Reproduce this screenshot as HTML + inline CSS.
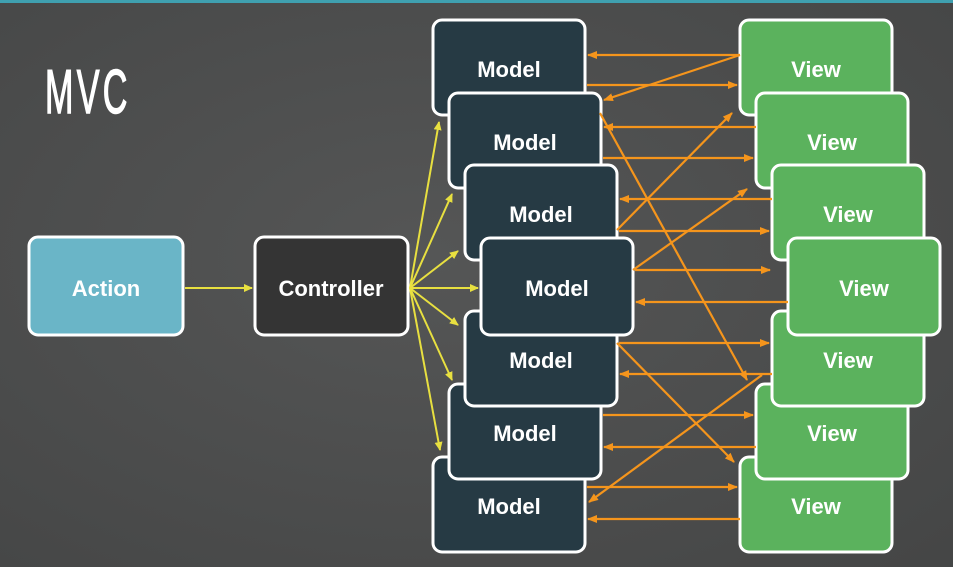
<!DOCTYPE html>
<html><head><meta charset="utf-8"><style>
html,body{margin:0;padding:0;background:#4a4b4b;}
svg{display:block}
text{font-family:"Liberation Sans",sans-serif;font-weight:bold;fill:#fff;}
</style></head><body>
<svg width="953" height="567" viewBox="0 0 953 567" xmlns="http://www.w3.org/2000/svg">
<defs>
<radialGradient id="bg" cx="0.45" cy="0.45" r="0.8">
<stop offset="0" stop-color="#555656"/><stop offset="1" stop-color="#444545"/>
</radialGradient>
<marker id="ya" markerWidth="9" markerHeight="9" refX="8" refY="4.5" orient="auto" markerUnits="userSpaceOnUse"><path d="M0,0.5 L9,4.5 L0,8.5z" fill="#e8e040"/></marker>
<marker id="oa" markerWidth="10" markerHeight="9" refX="9" refY="4.5" orient="auto" markerUnits="userSpaceOnUse"><path d="M0,0.5 L10,4.5 L0,8.5z" fill="#f5951c"/></marker>
</defs>
<rect width="953" height="567" fill="url(#bg)"/>
<rect width="953" height="3" fill="#3fa0b0"/>
<text x="45" y="113" font-size="62" letter-spacing="6" transform="translate(45 0) scale(0.55 1) translate(-45 0)" style="font-weight:normal" stroke="#fff" stroke-width="1.5">MVC</text>

<rect x="29" y="237" width="154" height="98" rx="9" fill="#6ab5c7" stroke="#fff" stroke-width="3"/>
<text x="106" y="296" font-size="22" text-anchor="middle">Action</text>
<rect x="255" y="237" width="153" height="98" rx="9" fill="#343434" stroke="#fff" stroke-width="3"/>
<text x="331" y="296" font-size="22" text-anchor="middle">Controller</text>
<line x1="185" y1="288" x2="252" y2="288" stroke="#e8e040" stroke-width="2" marker-end="url(#ya)"/>

<g stroke="#e8e040" stroke-width="2" marker-end="url(#ya)">
<line x1="410" y1="288" x2="439" y2="122"/>
<line x1="410" y1="288" x2="452" y2="194"/>
<line x1="410" y1="288" x2="458" y2="251"/>
<line x1="410" y1="288" x2="478" y2="288"/>
<line x1="410" y1="288" x2="458" y2="325"/>
<line x1="410" y1="288" x2="452" y2="380"/>
<line x1="410" y1="288" x2="440" y2="450"/>
</g>

<g stroke="#fff" stroke-width="3" fill="#263a44">
<rect x="433" y="20" width="152" height="95" rx="9"/>
<rect x="449" y="93" width="152" height="95" rx="9"/>
<rect x="465" y="165" width="152" height="95" rx="9"/>
<rect x="433" y="457" width="152" height="95" rx="9"/>
<rect x="449" y="384" width="152" height="95" rx="9"/>
<rect x="465" y="311" width="152" height="95" rx="9"/>
<rect x="481" y="238" width="152" height="97" rx="9"/>
</g>
<g font-size="22" text-anchor="middle">
<text x="509" y="77">Model</text>
<text x="525" y="150">Model</text>
<text x="541" y="222">Model</text>
<text x="509" y="514">Model</text>
<text x="525" y="441">Model</text>
<text x="541" y="368">Model</text>
<text x="557" y="296">Model</text>
</g>

<g stroke="#fff" stroke-width="3" fill="#5bb25d">
<rect x="740" y="20" width="152" height="95" rx="9"/>
<rect x="756" y="93" width="152" height="95" rx="9"/>
<rect x="772" y="165" width="152" height="95" rx="9"/>
<rect x="740" y="457" width="152" height="95" rx="9"/>
<rect x="756" y="384" width="152" height="95" rx="9"/>
<rect x="772" y="311" width="152" height="95" rx="9"/>
<rect x="788" y="238" width="152" height="97" rx="9"/>
</g>
<g font-size="22" text-anchor="middle">
<text x="816" y="77">View</text>
<text x="832" y="150">View</text>
<text x="848" y="222">View</text>
<text x="816" y="514">View</text>
<text x="832" y="441">View</text>
<text x="848" y="368">View</text>
<text x="864" y="296">View</text>
</g>

<g stroke="#f5951c" stroke-width="2.2" marker-end="url(#oa)">
<line x1="740" y1="55" x2="588" y2="55"/>
<line x1="587" y1="85" x2="737" y2="85"/>
<line x1="756" y1="127" x2="604" y2="127"/>
<line x1="603" y1="158" x2="753" y2="158"/>
<line x1="772" y1="199" x2="620" y2="199"/>
<line x1="619" y1="231" x2="769" y2="231"/>
<line x1="635" y1="270" x2="770" y2="270"/>
<line x1="788" y1="302" x2="636" y2="302"/>
<line x1="619" y1="343" x2="769" y2="343"/>
<line x1="772" y1="374" x2="620" y2="374"/>
<line x1="603" y1="415" x2="753" y2="415"/>
<line x1="756" y1="447" x2="604" y2="447"/>
<line x1="587" y1="487" x2="737" y2="487"/>
<line x1="740" y1="519" x2="588" y2="519"/>
<line x1="740" y1="55" x2="604" y2="100"/>
<line x1="600" y1="113" x2="747" y2="380"/>
<line x1="617" y1="343" x2="734" y2="462"/>
<line x1="762" y1="375" x2="589" y2="502"/>
<line x1="617" y1="230" x2="732" y2="113"/>
<line x1="633" y1="270" x2="747" y2="189"/>
</g>
</svg>
</body></html>
